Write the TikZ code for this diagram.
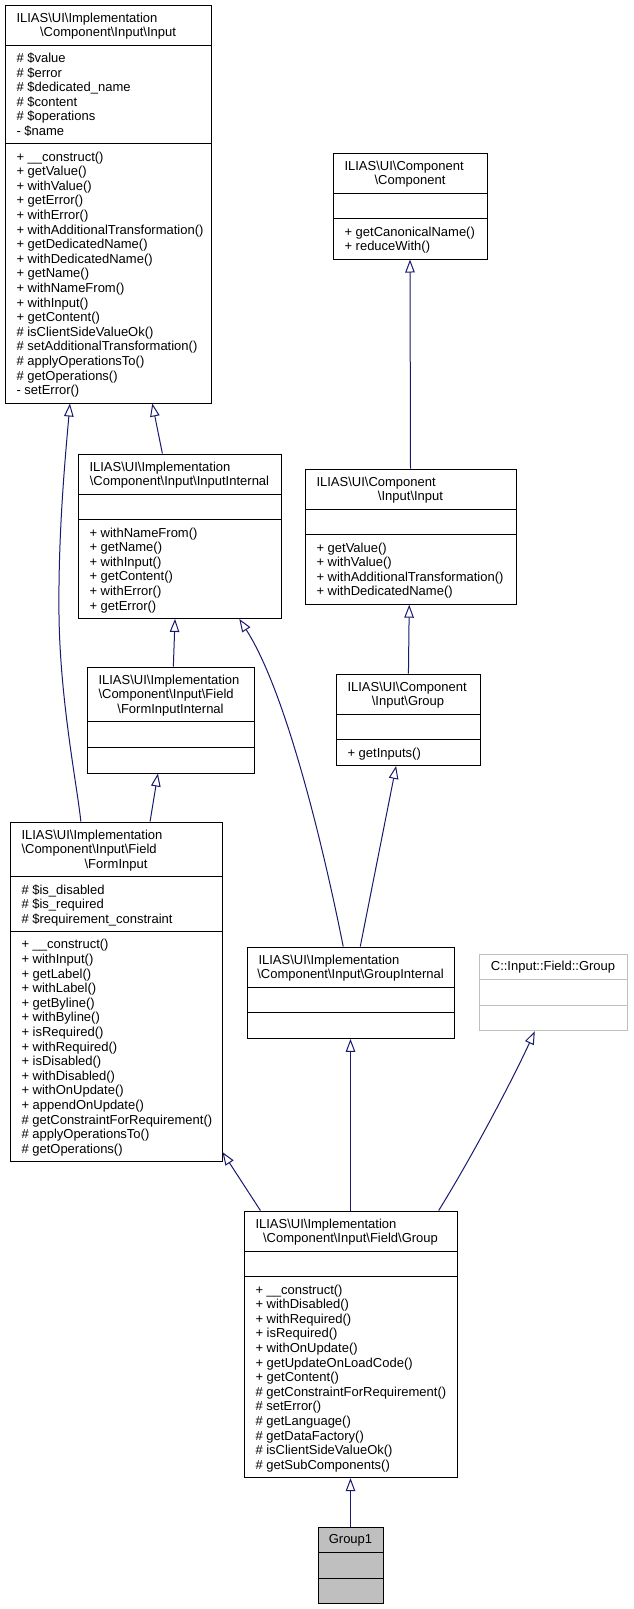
\documentclass[tikz,border=0pt]{standalone}
\usepackage{fontspec}
\setmainfont{Liberation Sans}
\usetikzlibrary{calc,arrows.meta}
\definecolor{albastru}{HTML}{191970}
\newcommand{\bs}{\textbackslash}

\begin{document}
\begin{tikzpicture}[x=1pt,y=-1pt,line width=1pt,
  font=\fontsize{13}{14.6}\selectfont,
  clasa/.style={draw,fill=white,inner sep=0pt},
  membri/.style={anchor=north west,align=left,inner sep=0pt},
  titlu/.style={anchor=base,inner sep=0pt},
  mostenire/.style={draw=albastru,-{Triangle[open,length=13pt,width=9.5pt]}}]
  \path[use as bounding box,fill=white] (0,0) rectangle (633,1609);

  % ILIAS\UI\Implementation\Component\Input\Input
  \node[clasa,minimum width=206,minimum height=398] (implinput) at (108,204) {};
  \draw (5,45.2) -- (211,45.2) (5,143.8) -- (211,143.8);
  \node[membri] (implinput-t1) at (16,11.6) {\strut ILIAS\bs UI\bs Implementation};
  \node[titlu] (implinput-t2) at (108,36.4) {\bs Component\bs Input\bs Input};
  \node[membri] (implinput-a) at (16,51.8) {\strut\# \$value\\\# \$error\\\# \$dedicated\_name\\\# \$content\\\# \$operations\\- \$name};
  \node[membri] (implinput-m) at (16,150.4) {\strut+ \_\_construct()\\+ getValue()\\+ withValue()\\+ getError()\\+ withError()\\+ withAdditionalTransformation()\\+ getDedicatedName()\\+ withDedicatedName()\\+ getName()\\+ withNameFrom()\\+ withInput()\\+ getContent()\\\# isClientSideValueOk()\\\# setAdditionalTransformation()\\\# applyOperationsTo()\\\# getOperations()\\- setError()};

  % ILIAS\UI\Component\Component
  \node[clasa,minimum width=154,minimum height=106] (component) at (410,206) {};
  \draw (333,193.2) -- (487,193.2) (333,218.8) -- (487,218.8);
  \node[membri] (component-t1) at (344,159.6) {\strut ILIAS\bs UI\bs Component};
  \node[titlu] (component-t2) at (410,184.4) {\bs Component};
  \node[membri] (component-m) at (344,225.4) {\strut+ getCanonicalName()\\+ reduceWith()};

  % ILIAS\UI\Component\Input\Input
  \node[clasa,minimum width=211,minimum height=135.2] (input) at (410.5,536.6) {};
  \draw (305,509.2) -- (516,509.2) (305,534.8) -- (516,534.8);
  \node[membri] (input-t1) at (316,475.6) {\strut ILIAS\bs UI\bs Component};
  \node[titlu] (input-t2) at (410.5,500.4) {\bs Input\bs Input};
  \node[membri] (input-m) at (316,541.4) {\strut+ getValue()\\+ withValue()\\+ withAdditionalTransformation()\\+ withDedicatedName()};

  % ILIAS\UI\Component\Input\Group
  \node[clasa,minimum width=144,minimum height=91.4] (inputgroup) at (408,719.7) {};
  \draw (336,714.2) -- (480,714.2) (336,739.8) -- (480,739.8);
  \node[membri] (inputgroup-t1) at (347,680.6) {\strut ILIAS\bs UI\bs Component};
  \node[titlu] (inputgroup-t2) at (408,705.4) {\bs Input\bs Group};
  \node[membri] (inputgroup-m) at (347,746.4) {\strut+ getInputs()};

  % ILIAS\UI\Implementation\Component\Input\InputInternal
  \node[clasa,minimum width=203,minimum height=164.4] (inputinternal) at (179.5,536.2) {};
  \draw (78,494.2) -- (281,494.2) (78,519.8) -- (281,519.8);
  \node[membri] (inputinternal-t1) at (89,460.6) {\strut ILIAS\bs UI\bs Implementation};
  \node[titlu] (inputinternal-t2) at (179.5,485.4) {\bs Component\bs Input\bs InputInternal};
  \node[membri] (inputinternal-m) at (89,526.4) {\strut+ withNameFrom()\\+ getName()\\+ withInput()\\+ getContent()\\+ withError()\\+ getError()};

  % ILIAS\UI\Implementation\Component\Input\Field\FormInputInternal
  \node[clasa,minimum width=167,minimum height=106] (forminputinternal) at (170.5,720) {};
  \draw (87,721.8) -- (254,721.8) (87,747.4) -- (254,747.4);
  \node[membri] (forminputinternal-t1) at (98,673.6) {\strut ILIAS\bs UI\bs Implementation\\\bs Component\bs Input\bs Field};
  \node[titlu] (forminputinternal-t2) at (170.5,713) {\bs FormInputInternal};

  % ILIAS\UI\Implementation\Component\Input\Field\FormInput
  \node[clasa,minimum width=212,minimum height=339.6] (forminput) at (116,991.8) {};
  \draw (10,876.8) -- (222,876.8) (10,931.6) -- (222,931.6);
  \node[membri] (forminput-t1) at (21,828.6) {\strut ILIAS\bs UI\bs Implementation\\\bs Component\bs Input\bs Field};
  \node[titlu] (forminput-t2) at (116,868) {\bs FormInput};
  \node[membri] (forminput-a) at (21,883.4) {\strut\# \$is\_disabled\\\# \$is\_required\\\# \$requirement\_constraint};
  \node[membri] (forminput-m) at (21,938.2) {\strut+ \_\_construct()\\+ withInput()\\+ getLabel()\\+ withLabel()\\+ getByline()\\+ withByline()\\+ isRequired()\\+ withRequired()\\+ isDisabled()\\+ withDisabled()\\+ withOnUpdate()\\+ appendOnUpdate()\\\# getConstraintForRequirement()\\\# applyOperationsTo()\\\# getOperations()};

  % ILIAS\UI\Implementation\Component\Input\GroupInternal
  \node[clasa,minimum width=207,minimum height=91.4] (groupinternal) at (350.5,992.7) {};
  \draw (247,987.2) -- (454,987.2) (247,1012.8) -- (454,1012.8);
  \node[membri] (groupinternal-t1) at (258,953.6) {\strut ILIAS\bs UI\bs Implementation};
  \node[titlu] (groupinternal-t2) at (350.5,978.4) {\bs Component\bs Input\bs GroupInternal};

  % C::Input::Field::Group
  \node[clasa,draw=black!25,minimum width=148,minimum height=76.8] (cgroup) at (553,992.4) {};
  \draw[black!25] (479,979.6) -- (627,979.6) (479,1005.2) -- (627,1005.2);
  \node[titlu] (cgroup-t) at (553,970.8) {C::Input::Field::Group};

  % ILIAS\UI\Implementation\Component\Input\Field\Group
  \node[clasa,minimum width=213,minimum height=266.6] (fieldgroup) at (350.5,1344.3) {};
  \draw (244,1251.2) -- (457,1251.2) (244,1276.8) -- (457,1276.8);
  \node[membri] (fieldgroup-t1) at (255,1217.6) {\strut ILIAS\bs UI\bs Implementation};
  \node[titlu] (fieldgroup-t2) at (350.5,1242.4) {\bs Component\bs Input\bs Field\bs Group};
  \node[membri] (fieldgroup-m) at (255,1283.4) {\strut+ \_\_construct()\\+ withDisabled()\\+ withRequired()\\+ isRequired()\\+ withOnUpdate()\\+ getUpdateOnLoadCode()\\+ getContent()\\\# getConstraintForRequirement()\\\# setError()\\\# getLanguage()\\\# getDataFactory()\\\# isClientSideValueOk()\\\# getSubComponents()};

  % Group1
  \node[clasa,fill=black!25,minimum width=65,minimum height=76.8] (group1) at (350.5,1565.4) {};
  \draw (318,1552.6) -- (383,1552.6) (318,1578.2) -- (383,1578.2);
  \node[titlu] (group1-t) at (350.5,1543.8) {Group1};

  % mostenirile
  \draw[mostenire] ($(inputinternal.north west)!0.416!(inputinternal.north east)$) -- ($(implinput.south west)!0.714!(implinput.south east)$);
  \draw[mostenire] ($(forminput.north west)!0.335!(forminput.north east)$) .. controls (77,785) and (60,700) .. (59,615) .. controls (58,530) and (66,450) .. ($(implinput.south west)!0.316!(implinput.south east)$);
  \draw[mostenire] (input.north) -- (component.south);
  \draw[mostenire] ($(inputgroup.north west)!0.503!(inputgroup.north east)$) -- ($(input.south west)!0.494!(input.south east)$);
  \draw[mostenire] ($(forminputinternal.north west)!0.517!(forminputinternal.north east)$) -- ($(inputinternal.south west)!0.478!(inputinternal.south east)$);
  \draw[mostenire] ($(forminput.north west)!0.66!(forminput.north east)$) -- ($(forminputinternal.south west)!0.425!(forminputinternal.south east)$);
  \draw[mostenire] ($(groupinternal.north west)!0.465!(groupinternal.north east)$) .. controls (322,840) and (285,690) .. ($(inputinternal.south west)!0.793!(inputinternal.south east)$);
  \draw[mostenire] ($(groupinternal.north west)!0.547!(groupinternal.north east)$) -- ($(inputgroup.south west)!0.418!(inputgroup.south east)$);
  \draw[mostenire] ($(fieldgroup.north west)!0.079!(fieldgroup.north east)$) -- ($(forminput.south east)+(0,-10)$);
  \draw[mostenire] (fieldgroup.north) -- (groupinternal.south);
  \draw[mostenire] ($(fieldgroup.north west)!0.912!(fieldgroup.north east)$) .. controls (470,1160) and (510,1085) .. ($(cgroup.south west)!0.378!(cgroup.south east)$);
  \draw[mostenire] (group1.north) -- (fieldgroup.south);
\end{tikzpicture}
\end{document}
